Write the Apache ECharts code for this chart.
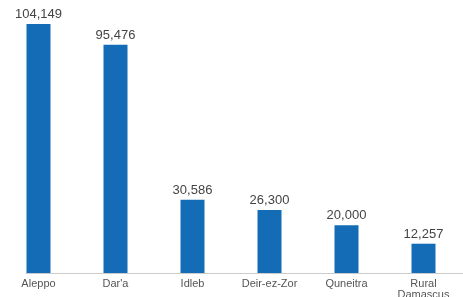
<!DOCTYPE html>
<html>
<head>
<meta charset="utf-8">
<script src="https://cdn.jsdelivr.net/npm/echarts@6/dist/echarts.min.js"></script>
<style>
html, body { margin: 0; padding: 0; background: #fff; }
#chart { width: 463px; height: 297px; }
</style>
</head>
<body>
<div id="chart"></div>
<script>
var regions = ['Aleppo', "Dar'a", 'Idleb', 'Deir-ez-Zor', 'Quneitra', 'Rural\nDamascus'];
var counts = [104149, 95476, 30586, 26300, 20000, 12257];

var myChart = echarts.init(document.getElementById('chart'));
var option = {
	animation: false,
	grid: [{
		left: 0,
		right: 1,
		top: 24,
		bottom: 24,
		outerBoundsMode: 'none'
	}, {
		left: 26,
		right: 0,
		top: 24,
		bottom: 24,
		outerBoundsMode: 'none'
	}],
	xAxis: [{
		type: 'category',
		data: regions,
		gridIndex: 0,
		axisLine: { show: false },
		axisTick: { show: false },
		axisLabel: {
			color: '#555',
			fontFamily: 'Liberation Sans',
			fontSize: 11,
			margin: 5,
			lineHeight: 11,
			interval: 0
		}
	}, {
		type: 'value',
		gridIndex: 1,
		axisLine: { show: true, lineStyle: { color: '#cccccc', width: 1 } },
		axisTick: { show: false },
		axisLabel: { show: false },
		splitLine: { show: false }
	}],
	yAxis: [{
		type: 'value',
		gridIndex: 0,
		min: 0,
		max: 'dataMax',
		show: false
	}, {
		type: 'value',
		gridIndex: 1,
		show: false
	}],
	series: [{
		type: 'bar',
		data: counts,
		barWidth: 24,
		itemStyle: { color: '#136cb5' },
		label: {
			show: true,
			position: 'top',
			distance: 3,
			color: '#444',
			fontFamily: 'Liberation Sans',
			fontSize: 13,
			formatter: function(p) {
				return p.value.toLocaleString('en-US');
			}
		}
	}]
};
myChart.setOption(option);
</script>
</body>
</html>
